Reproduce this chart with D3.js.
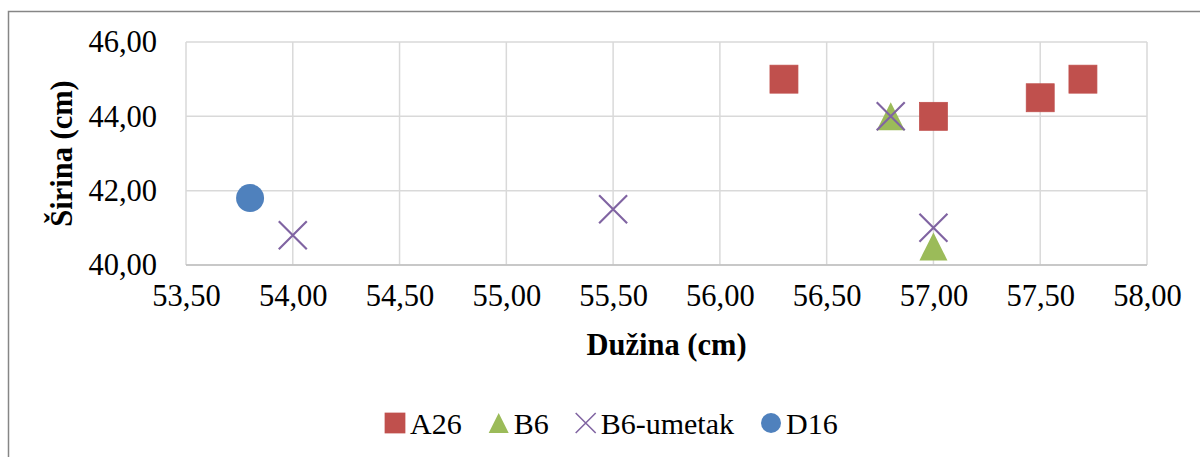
<!DOCTYPE html>
<html>
<head>
<meta charset="utf-8">
<script src="https://cdn.jsdelivr.net/npm/d3@7"></script>
<style>
  body { margin: 0; background: #fff; }
  svg { display: block; }
</style>
</head>
<body>
<div class="canvas"></div>
<script>
// data
const seriesNames = ['A26', 'B6', 'B6-umetak', 'D16']
const a26 = [[56.3, 45.0], [57.0, 44.0], [57.5, 44.5], [57.7, 45.0]]
const b6 = [[56.8, 44.0], [57.0, 40.5]]
const b6umetak = [[54.0, 40.8], [55.5, 41.5], [56.8, 44.0], [57.0, 41.0]]
const d16 = [[53.8, 41.8]]
const xTicks = [53.5, 54, 54.5, 55, 55.5, 56, 56.5, 57, 57.5, 58]
const yTicks = [40, 42, 44, 46]

const colors = {A26: '#C0504D', B6: '#9BBB59', 'B6-umetak': '#8064A2', D16: '#4F81BD'}
const shapes = {A26: 'square', B6: 'triangle', 'B6-umetak': 'cross', D16: 'circle'}
const seriesData = {A26: a26, B6: b6, 'B6-umetak': b6umetak, D16: d16}

const width = 1200
const height = 457
const margin = {top: 42, right: 53, bottom: 192, left: 186}
const serif = "'Liberation Serif'"
const fmt = v => d3.format('.2f')(v).replace('.', ',')

const svg = d3.select('.canvas')
  .append('svg')
  .attr('width', width)
  .attr('height', height)

// outer chart border (runs off the right and bottom edges)
svg.append('rect')
  .attr('x', 8.5).attr('y', 11.5)
  .attr('width', width + 20).attr('height', height + 20)
  .attr('fill', 'none')
  .attr('stroke', '#868686')
  .attr('stroke-width', 1.5)

const x = d3.scaleLinear().domain([53.5, 58]).range([margin.left, width - margin.right])
const y = d3.scaleLinear().domain([40, 46]).range([height - margin.bottom, margin.top])

// gridlines
const grid = svg.append('g')
grid.selectAll('.vx').data(xTicks).enter().append('line')
  .attr('x1', d => x(d)).attr('x2', d => x(d))
  .attr('y1', y(46)).attr('y2', y(40))
  .attr('stroke', '#D9D9D9').attr('stroke-width', 1.5)
grid.selectAll('.hy').data(yTicks).enter().append('line')
  .attr('x1', x(53.5)).attr('x2', x(58))
  .attr('y1', d => y(d)).attr('y2', d => y(d))
  .attr('stroke', '#D9D9D9').attr('stroke-width', 1.5)
svg.append('line')
  .attr('x1', x(53.5)).attr('x2', x(58))
  .attr('y1', y(40)).attr('y2', y(40))
  .attr('stroke', '#BFBFBF').attr('stroke-width', 1.5)

// axes (labels only, no ticks)
const xAxis = svg.append('g')
  .attr('transform', `translate(0, ${y(40)})`)
  .call(d3.axisBottom(x).tickValues(xTicks).tickFormat(fmt).tickSize(0).tickPadding(19))
const yAxis = svg.append('g')
  .attr('transform', `translate(${x(53.5)}, 0)`)
  .call(d3.axisLeft(y).tickValues(yTicks).tickFormat(fmt).tickSize(0).tickPadding(29))
;[xAxis, yAxis].forEach(axis => {
  axis.select('.domain').remove()
  axis.selectAll('text')
    .style('font-family', serif)
    .style('font-size', '30.5px')
    .attr('fill', '#000')
})

// axis titles
svg.append('text')
  .attr('x', (x(53.5) + x(58)) / 2)
  .attr('y', 355)
  .attr('text-anchor', 'middle')
  .style('font-family', serif)
  .style('font-size', '30.5px')
  .style('font-weight', 'bold')
  .text('Dužina (cm)')
svg.append('text')
  .attr('transform', `translate(72, ${(y(40) + y(46)) / 2}) rotate(-90)`)
  .attr('text-anchor', 'middle')
  .style('font-family', serif)
  .style('font-size', '30.5px')
  .style('font-weight', 'bold')
  .text('Širina (cm)')

const drawMarker = (g, shape, color, size) => {
  const h = size / 2
  if (shape === 'square') {
    g.append('rect').attr('x', -h).attr('y', -h).attr('width', size).attr('height', size)
      .attr('fill', color).attr('stroke', color).attr('stroke-width', 0.75)
  } else if (shape === 'triangle') {
    g.append('path').attr('d', `M0,${-h}L${h},${h}L${-h},${h}Z`).attr('fill', color)
  } else if (shape === 'circle') {
    g.append('circle').attr('r', h).attr('fill', color)
  } else {
    g.append('path').attr('d', `M${-h},${-h}L${h},${h}M${-h},${h}L${h},${-h}`)
      .attr('stroke', color).attr('stroke-width', size / 13).attr('fill', 'none')
  }
}

// points
seriesNames.forEach(name => {
  svg.append('g').selectAll('g')
    .data(seriesData[name])
    .enter().append('g')
    .attr('transform', d => `translate(${x(d[0])}, ${y(d[1])})`)
    .each(function () { drawMarker(d3.select(this), shapes[name], colors[name], 28) })
})

// legend
const legend = svg.append('g')
let lx = 385
seriesNames.forEach(name => {
  const item = legend.append('g').attr('transform', `translate(${lx}, 423)`)
  drawMarker(item.append('g').attr('transform', 'translate(10, 0)'), shapes[name], colors[name], 20)
  const label = item.append('text')
    .attr('x', 25).attr('y', 10.5)
    .style('font-family', serif)
    .style('font-size', '30px')
    .attr('fill', '#000')
    .text(name)
  lx += 25 + label.node().getComputedTextLength() + 27
})
</script>
</body>
</html>
